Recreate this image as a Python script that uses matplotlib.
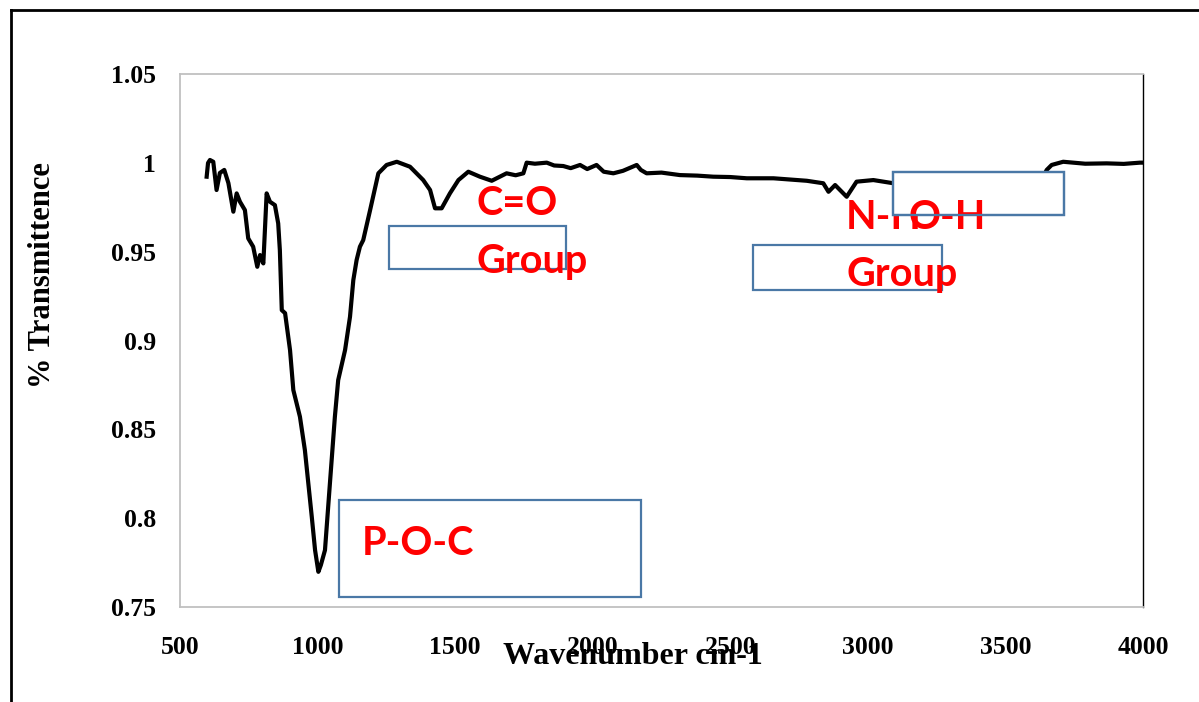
import matplotlib.pyplot as plt
from matplotlib.patches import Rectangle
from matplotlib.lines import Line2D

# FTIR spectrum
wavenumber = [597, 602, 609, 621, 633, 645, 661, 676, 694, 706, 718, 736, 748, 766,
              781, 791, 803, 815, 827, 845, 857, 863, 870, 882, 900, 912, 936, 954,
              979, 991, 1003, 1012, 1027, 1045, 1063, 1075, 1100, 1118, 1130, 1142,
              1154, 1166, 1191, 1221, 1251, 1288, 1336, 1384, 1409, 1427, 1451, 1481,
              1512, 1548, 1590, 1633, 1687, 1720, 1748, 1760, 1790, 1833, 1860, 1893,
              1920, 1954, 1980, 2014, 2040, 2075, 2110, 2160, 2175, 2196, 2250, 2317,
              2380, 2438, 2500, 2560, 2657, 2778, 2838, 2857, 2881, 2923, 2959, 3020,
              3093, 3299, 3626, 3650, 3668, 3710, 3790, 3868, 3930, 3989, 4000]
transmittance = [0.9922, 0.9999, 1.0016, 1.0006, 0.9847, 0.9943, 0.9960, 0.9886,
                 0.9725, 0.9828, 0.9781, 0.9734, 0.9575, 0.9528, 0.9415, 0.9481,
                 0.9434, 0.9828, 0.9781, 0.9762, 0.9659, 0.9509, 0.9171, 0.9154,
                 0.8946, 0.8721, 0.8571, 0.8383, 0.8008, 0.7820, 0.7698, 0.7736,
                 0.7820, 0.8197, 0.8571, 0.8777, 0.8946, 0.9134, 0.9340, 0.9453,
                 0.9528, 0.9565, 0.9734, 0.9941, 0.9988, 1.0006, 0.9978, 0.9903,
                 0.9847, 0.9744, 0.9744, 0.9828, 0.9903, 0.9950, 0.9922, 0.9899,
                 0.9941, 0.9930, 0.9941, 1.0001, 0.9995, 1.0001, 0.9985, 0.9982,
                 0.9970, 0.9988, 0.9965, 0.9988, 0.9950, 0.9941, 0.9955, 0.9988,
                 0.9960, 0.9941, 0.9945, 0.9931, 0.9928, 0.9922, 0.9920, 0.9913,
                 0.9913, 0.9899, 0.9885, 0.9837, 0.9875, 0.9809, 0.9894, 0.9903,
                 0.9885, 0.9886, 0.9886, 0.9960, 0.9988, 1.0006, 0.9995, 0.9997,
                 0.9994, 1.0001, 1.0001]

x_ticks = [500, 1000, 1500, 2000, 2500, 3000, 3500, 4000]
y_ticks = [0.75, 0.8, 0.85, 0.9, 0.95, 1.0, 1.05]
y_tick_labels = ['0.75', '0.8', '0.85', '0.9', '0.95', '1', '1.05']

box_color = '#4a78a6'
label_font = 'Liberation Serif'
note_font = 'Lato'

fig = plt.figure(figsize=(11.99, 7.02), dpi=100)
ax = fig.add_axes([0.1501, 0.1353, 0.8032, 0.7593])

ax.plot(wavenumber, transmittance, color='black', lw=3.0, zorder=3)

ax.set_xlim(500, 4000)
ax.set_ylim(0.75, 1.05)
ax.set_xticks(x_ticks)
ax.set_yticks(y_ticks)
ax.set_yticklabels(y_tick_labels)
ax.tick_params(length=0)
ax.tick_params(axis='y', pad=17)
ax.tick_params(axis='x', pad=21)
for lab in ax.get_xticklabels() + ax.get_yticklabels():
    lab.set_fontfamily(label_font)
    lab.set_fontweight('bold')
    lab.set_fontsize(18.5)

for side in ['left', 'top', 'bottom']:
    ax.spines[side].set_color('#c0c0c0')
    ax.spines[side].set_linewidth(1.3)
ax.spines['right'].set_color('black')
ax.spines['right'].set_linewidth(1.0)

fig.text(43 / 1199, 1 - 275 / 702, '% Transmittence', rotation=90,
         ha='center', va='center', fontfamily=label_font, fontweight='bold', fontsize=22)
fig.text(633 / 1199, 1 - 657 / 702, 'Wavenumber cm-1', ha='center', va='center',
         fontfamily=label_font, fontweight='bold', fontsize=23)

# outer frame (cut off on the right and bottom)
fig.add_artist(Line2D([11 / 1199, 1], [1 - 9.5 / 702, 1 - 9.5 / 702], color='black', lw=2))
fig.add_artist(Line2D([11 / 1199, 11 / 1199], [0, 1 - 9.5 / 702], color='black', lw=2))

# annotation boxes
def box(x0, x1, y0, y1, z=4):
    ax.add_patch(Rectangle((x0, y0), x1 - x0, y1 - y0, facecolor='white',
                           edgecolor=box_color, lw=1.6, zorder=z, clip_on=False))

box(1261, 1903, 0.9401, 0.9644, z=2)
box(2581, 3268, 0.9284, 0.9537, z=2)
box(1079, 2174, 0.7557, 0.8102, z=2)

note = dict(color='#ff0000', fontfamily=note_font, fontweight='bold', fontsize=28.5,
            va='baseline', ha='left')
ax.text(1578, 0.9706, 'C=O', zorder=5, **note)
ax.text(1578, 0.9380, 'Group', zorder=5, **note)
ax.text(2921, 0.9627, 'N-H', zorder=3, **note)
box(3090, 3714, 0.9706, 0.9947, z=4)
ax.text(3146, 0.9627, 'O-H', zorder=5, **note)
ax.add_patch(Rectangle((3090, 0.9706), 624, 0.0241, facecolor='none',
                       edgecolor=box_color, lw=1.6, zorder=6))
ax.text(2921, 0.9306, 'Group', zorder=5, **note)
ax.text(1160, 0.7792, 'P-O-C', zorder=5, **note)

fig.savefig('out.png', dpi=100, facecolor='white')
